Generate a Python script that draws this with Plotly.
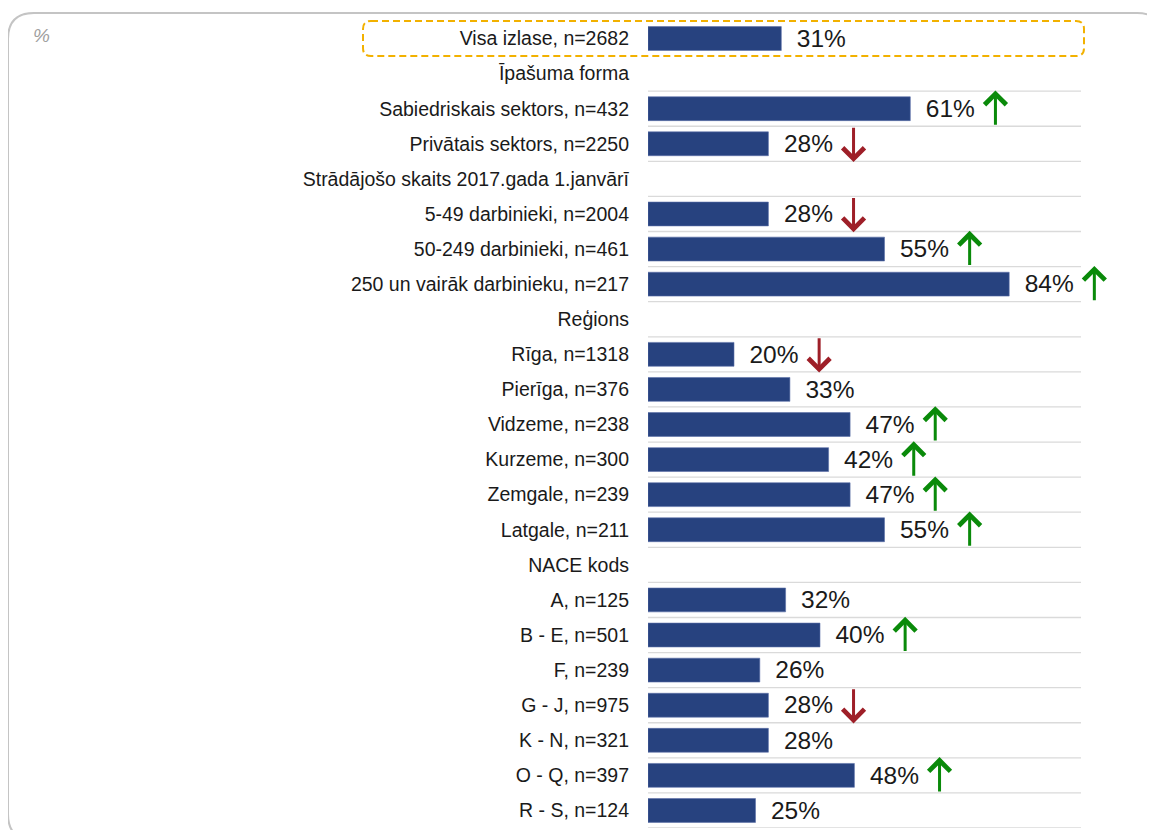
import plotly.graph_objects as go

# ---- data ----
labels = [
    "Visa izlase, n=2682",
    "Īpašuma forma",
    "Sabiedriskais sektors, n=432",
    "Privātais sektors, n=2250",
    "Strādājošo skaits 2017.gada 1.janvārī",
    "5-49 darbinieki, n=2004",
    "50-249 darbinieki, n=461",
    "250 un vairāk darbinieku, n=217",
    "Reģions",
    "Rīga, n=1318",
    "Pierīga, n=376",
    "Vidzeme, n=238",
    "Kurzeme, n=300",
    "Zemgale, n=239",
    "Latgale, n=211",
    "NACE kods",
    "A, n=125",
    "B - E, n=501",
    "F, n=239",
    "G - J, n=975",
    "K - N, n=321",
    "O - Q, n=397",
    "R - S, n=124",
]
values = [31, None, 61, 28, None, 28, 55, 84, None, 20, 33, 47, 42, 47, 55,
          None, 32, 40, 26, 28, 28, 48, 25]
significance = [None, None, "up", "down", None, "down", "up", "up", None,
                "down", None, "up", "up", "up", "up", None, None, "up", None,
                "down", None, "up", None]

# ---- layout constants (page pixel coordinates; page has an 8px body margin) ----
OFF = 8
W, H = 1155 - OFF, 830 - OFF
ML, MR, MT, MB = 648 - OFF, 0, 21 - OFF, 2
PW, PH = W - ML - MR, H - MT - MB
PX_PER_UNIT = 4.3
XMAX = PW / PX_PER_UNIT

FONT = "Arial, Liberation Sans, sans-serif"
BAR_COLOR = "#27427F"
UP_COLOR = "#0A8A0A"
DOWN_COLOR = "#9E1F28"

def px_x(p):
    return (p - OFF - ML) / PW

def px_y(p):
    return 1 - (p - OFF - MT) / PH

n = len(labels)
ypos = [-i for i in range(n)]

bar_y = [y for y, v in zip(ypos, values) if v is not None]
bar_x = [v for v in values if v is not None]

fig = go.Figure()
fig.add_trace(go.Bar(
    x=bar_x, y=bar_y, orientation="h", width=0.68,
    marker=dict(color=BAR_COLOR, line=dict(color="#5A6FA8", width=0.6)),
    hoverinfo="skip", showlegend=False,
))
fig.add_trace(go.Scatter(
    x=[v + 3.6 for v in bar_x], y=[y - 0.06 for y in bar_y], mode="text",
    text=[f"{v}%" for v in bar_x], textposition="middle right",
    textfont=dict(family=FONT, size=24.5, color="#1A1A1A"),
    hoverinfo="skip", showlegend=False,
))

shapes = []
# row separators (from below the first section header to the bottom)
for i in range(1, n):
    yb = -i - 0.5
    shapes.append(dict(type="line", xref="x", yref="y", x0=-0.7, x1=100.7,
                       y0=yb, y1=yb, line=dict(color="#DADADA", width=1.3),
                       layer="below"))

def rounded_path(x0, y0, x1, y1, r):
    X, Y = px_x, px_y
    return (f"M {X(x0 + r)},{Y(y0)} L {X(x1 - r)},{Y(y0)} "
            f"Q {X(x1)},{Y(y0)} {X(x1)},{Y(y0 + r)} "
            f"L {X(x1)},{Y(y1 - r)} Q {X(x1)},{Y(y1)} {X(x1 - r)},{Y(y1)} "
            f"L {X(x0 + r)},{Y(y1)} Q {X(x0)},{Y(y1)} {X(x0)},{Y(y1 - r)} "
            f"L {X(x0)},{Y(y0 + r)} Q {X(x0)},{Y(y0)} {X(x0 + r)},{Y(y0)} Z")

# outer rounded frame
shapes.append(dict(type="path", xref="paper", yref="paper",
                   path=rounded_path(8, 13, 1163, 840, 26),
                   line=dict(color="#C4C4C4", width=2), layer="below"))
# highlight box around total row
shapes.append(dict(type="path", xref="paper", yref="paper",
                   path=rounded_path(363, 21, 1084, 56, 8),
                   line=dict(color="#F2B100", width=2, dash="7px,4px"),
                   layer="above"))

annotations = [dict(text="<i>%</i>", xref="paper", yref="paper",
                    x=px_x(31), y=px_y(35), xanchor="left", yanchor="middle",
                    showarrow=False,
                    font=dict(family=FONT, size=19, color="#A0A0A0"))]

ARROW_OFFSET = 19.8
for y, v, s in zip(ypos, values, significance):
    if s is None or v is None:
        continue
    xa = v + ARROW_OFFSET
    if s == "up":
        tip, tail, col = y + 0.52, y - 0.5, UP_COLOR
    else:
        tip, tail, col = y - 0.52, y + 0.5, DOWN_COLOR
    annotations.append(dict(x=xa, y=tip, ax=xa, ay=tail, xref="x", yref="y",
                            axref="x", ayref="y", text="", showarrow=True,
                            arrowhead=4, arrowsize=1.4, arrowwidth=3,
                            arrowcolor=col))

fig.update_layout(
    width=W, height=H,
    margin=dict(l=ML, r=MR, t=MT, b=MB, autoexpand=False),
    paper_bgcolor="white", plot_bgcolor="white",
    xaxis=dict(range=[0, XMAX], visible=False, automargin=False, fixedrange=True),
    yaxis=dict(range=[-(n - 1) - 0.5, 0.5], tickvals=ypos, ticktext=labels,
               showgrid=False, zeroline=False, showline=False, ticks="",
               ticklabelstandoff=18, automargin=False, fixedrange=True,
               tickfont=dict(family=FONT, size=19.5, color="#1A1A1A")),
    shapes=shapes,
    annotations=annotations,
    showlegend=False,
)

fig.write_html("out.html")
